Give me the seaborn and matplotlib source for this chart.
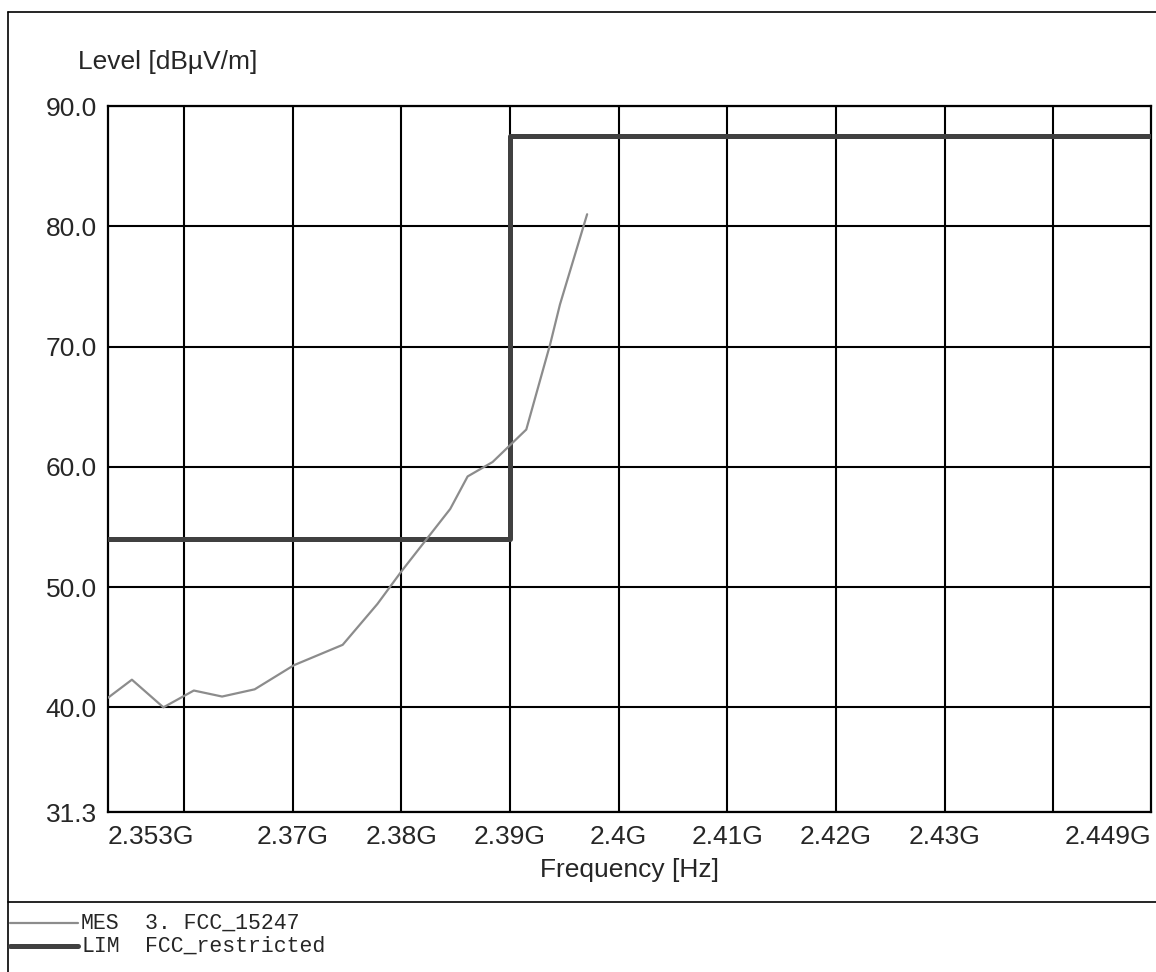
import matplotlib
matplotlib.use("Agg")
import matplotlib.pyplot as plt
import seaborn as sns
import pandas as pd
from matplotlib.lines import Line2D

# ---- data ----
mes_freq_ghz = [2.3530, 2.3552, 2.3581, 2.3609, 2.3635, 2.3665, 2.3701, 2.3746,
                2.3778, 2.3800, 2.3845, 2.3861, 2.3884, 2.3915, 2.3937, 2.3946, 2.3971]
mes_level = [40.8, 42.3, 40.0, 41.4, 40.9, 41.5, 43.5, 45.2,
             48.6, 51.3, 56.5, 59.2, 60.4, 63.1, 70.2, 73.5, 81.0]
lim_freq_ghz = [2.353, 2.39, 2.39, 2.449]
lim_level = [54.0, 54.0, 87.5, 87.5]

x_tick_values = [2.353, 2.37, 2.38, 2.39, 2.40, 2.41, 2.42, 2.43, 2.449]
x_tick_labels = ["2.353G", "2.37G", "2.38G", "2.39G", "2.4G", "2.41G", "2.42G", "2.43G", "2.449G"]
grid_freqs = [2.36, 2.37, 2.38, 2.39, 2.40, 2.41, 2.42, 2.43, 2.44]
y_tick_values = [31.3, 40.0, 50.0, 60.0, 70.0, 80.0, 90.0]
y_tick_labels = ["31.3", "40.0", "50.0", "60.0", "70.0", "80.0", "90.0"]

legend_codes = ["MES", "LIM"]
legend_names = ["3. FCC_15247", "FCC_restricted"]

# ---- style ----
sns.set_style("white")
plt.rcParams['font.family'] = ['Liberation Sans', 'DejaVu Sans']

W, H = 1156, 972
fig = plt.figure(figsize=(W / 100, H / 100), dpi=100)
fig.patch.set_facecolor("white")

ax_l, ax_r, ax_t, ax_b = 108, 1151, 106, 812
ax = fig.add_axes([ax_l / W, 1 - ax_b / H, (ax_r - ax_l) / W, (ax_b - ax_t) / H])

mes_df = pd.DataFrame({"freq": mes_freq_ghz, "level": mes_level})
lim_df = pd.DataFrame({"freq": lim_freq_ghz, "level": lim_level})

sns.lineplot(data=lim_df, x="freq", y="level", ax=ax, color="#404040", lw=3.6,
             estimator=None, sort=False, zorder=3)
sns.lineplot(data=mes_df, x="freq", y="level", ax=ax, color="#8c8c8c", lw=1.6,
             estimator=None, sort=False, zorder=4)

ax.set_xlim(2.353, 2.449)
ax.set_ylim(31.3, 90.0)

ax.xaxis.remove_overlapping_locs = False
ax.set_xticks(x_tick_values)
ax.set_xticklabels(x_tick_labels)
ax.set_xticks(grid_freqs, minor=True)
ax.set_yticks(y_tick_values)
ax.set_yticklabels(y_tick_labels)

ax.grid(False)
ax.grid(which="minor", axis="x", color="black", lw=1.5)
ax.grid(which="major", axis="y", color="black", lw=1.5)
ax.set_axisbelow(True)

ax.tick_params(which="both", length=0)
ax.tick_params(axis="x", labelsize=19, pad=9)
ax.tick_params(axis="y", labelsize=19, pad=8)
labels = ax.get_xticklabels()
labels[0].set_horizontalalignment("left")
labels[-1].set_horizontalalignment("right")

for s in ax.spines.values():
    s.set_color("black")
    s.set_linewidth(1.6)
    s.set_visible(True)

ax.set_xlabel("Frequency [Hz]", fontsize=19, labelpad=7)
ax.set_ylabel("")

fig.text(78 / W, 1 - 62 / H, "Level [dBµV/m]", fontsize=19, va="center", ha="left")

# frame lines
def fline(x0, y0, x1, y1, lw=1.2, color="black"):
    fig.add_artist(Line2D([x0 / W, x1 / W], [1 - y0 / H, 1 - y1 / H],
                          transform=fig.transFigure, color=color, lw=lw))

fline(8, 12, W, 12)
fline(8, 12, 8, H)
fline(8, 902, W, 902)

# legend block
row_y = [923, 946]
fline(10, row_y[0], 78, row_y[0], lw=1.6, color="#8c8c8c")
fline(10, row_y[1], 78, row_y[1], lw=3.6, color="#404040")
for y, code, name in zip(row_y, legend_codes, legend_names):
    fig.text(81 / W, 1 - y / H, code, fontsize=15.5, family="Liberation Mono", va="center", ha="left")
    fig.text(145 / W, 1 - y / H, name, fontsize=15.5, family="Liberation Mono", va="center", ha="left")

fig.savefig("out.png", dpi=100, facecolor="white")
